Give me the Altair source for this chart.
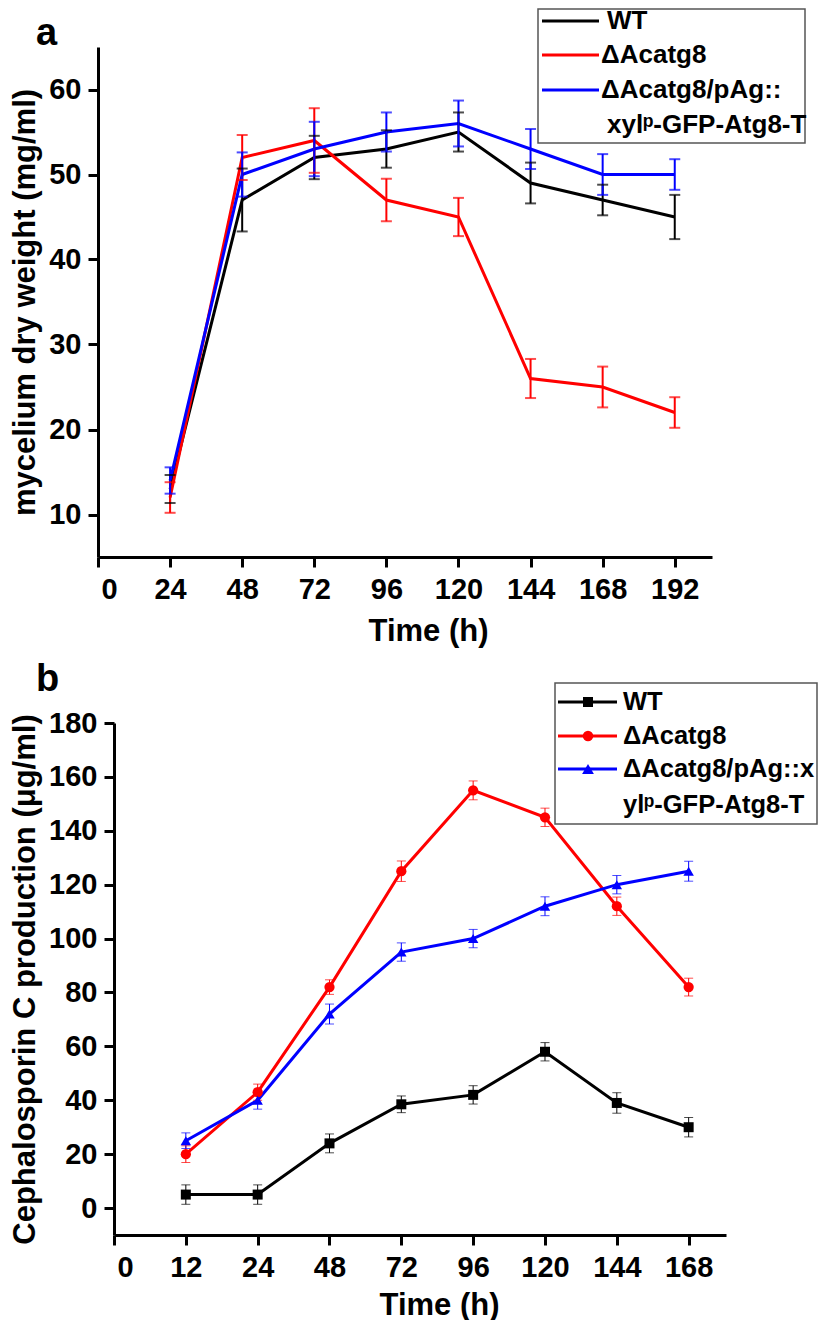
import json
import altair as alt
import pandas as pd

FONT = "Liberation Sans"

# ---------------- panel a : mycelium dry weight ----------------
a_time = [24, 48, 72, 96, 120, 144, 168, 192]
a_wt = [13, 47, 52, 53, 55, 49, 47, 45]
a_wt_err = [1.65, 3.7, 2.55, 2.2, 2.3, 2.4, 1.8, 2.6]
a_mut = [12, 52, 54, 47, 45, 26, 25, 22]
a_mut_err = [1.8, 2.65, 3.8, 2.5, 2.25, 2.3, 2.4, 1.8]
a_comp = [14, 50, 53, 55, 56, 53, 50, 50]
a_comp_err = [1.55, 2.6, 3.2, 2.3, 2.7, 2.35, 2.4, 1.8]
a_xticks = [0, 24, 48, 72, 96, 120, 144, 168, 192]
a_yticks = [10, 20, 30, 40, 50, 60]

# ---------------- panel b : cephalosporin C production ----------------
b_time_labels = ["0", "12", "24", "48", "72", "96", "120", "144", "168"]
b_time = ["12", "24", "48", "72", "96", "120", "144", "168"]
b_wt = [5, 5, 24, 38.5, 42, 58, 39, 30]
b_wt_err = [3.6, 3.6, 3.5, 3.1, 3.4, 3.4, 3.8, 3.6]
b_mut = [20, 43, 82, 125, 155, 145, 112, 82]
b_mut_err = [3.1, 3.0, 2.7, 3.8, 3.5, 3.4, 3.4, 3.3]
b_comp = [25, 40, 72, 95, 100, 112, 120, 125]
b_comp_err = [2.9, 3.3, 3.7, 3.4, 3.4, 3.5, 3.4, 3.7]
b_yticks = [0, 20, 40, 60, 80, 100, 120, 140, 160, 180]

series = ["WT", "ΔAcatg8", "ΔAcatg8/pAg::xylp-GFP-Atg8-T"]
colors = ["#000000", "#ff0000", "#0000ff"]
shapes = ["square", "circle", "triangle-up"]

legend_a_labels = ["WT", "ΔAcatg8", "ΔAcatg8/pAg::", "xylᵖ-GFP-Atg8-T"]
legend_b_labels = ["WT", "ΔAcatg8", "ΔAcatg8/pAg::x", "ylᵖ-GFP-Atg8-T"]


def to_long(times, groups):
    rows = []
    for name, vals, errs in groups:
        for t, v, e in zip(times, vals, errs):
            rows.append({"t": t, "series": name, "v": v, "lo": v - e, "hi": v + e})
    return pd.DataFrame(rows)


df_a = to_long(a_time, [(series[0], a_wt, a_wt_err), (series[1], a_mut, a_mut_err),
                        (series[2], a_comp, a_comp_err)])
b_pos = [b_time_labels.index(t) for t in b_time]
df_b = to_long(b_pos, [(series[0], b_wt, b_wt_err), (series[1], b_mut, b_mut_err),
                       (series[2], b_comp, b_comp_err)])

color = alt.Color("series:N", scale=alt.Scale(domain=series, range=colors), legend=None)
zero_off = {"condition": {"test": "datum.value === 0", "value": 11}, "value": 0}


def one():
    return alt.Chart(pd.DataFrame({"k": [0]}))


def legend_layers(box, line_x, ys, text_x, labels, marker_x=None, line_w=3, fs=26):
    layers = [one().mark_rect(fill="white", stroke="#555555", strokeWidth=1.5).encode(
        x=alt.value(box[0]), x2=alt.value(box[1]), y=alt.value(box[2]), y2=alt.value(box[3]))]
    for i in range(3):
        layers.append(one().mark_rule(color=colors[i], strokeWidth=line_w).encode(
            x=alt.value(line_x[0]), x2=alt.value(line_x[1]), y=alt.value(ys[i])))
        if marker_x is not None:
            layers.append(one().mark_point(shape=shapes[i], filled=True, opacity=1,
                                           color=colors[i], size=[100, 110, 140][i]).encode(
                x=alt.value(marker_x), y=alt.value(ys[i])))
    for i, lab in enumerate(labels):
        layers.append(one().mark_text(text=lab, align="left", baseline="middle", font=FONT,
                                      fontSize=fs, fontWeight="bold", color="black").encode(
            x=alt.value(text_x[i]), y=alt.value(ys[i])))
    return layers


# ---------------- chart a ----------------
# panel a's axes sit 16 px left of panel b's: the x range starts at -16 and the y axis is offset
SHIFT_A = 16
xa_scale = alt.Scale(domain=[0, 204.4], nice=False, zero=False, range=[-SHIFT_A, 598])
ya_scale = alt.Scale(domain=[5, 65], nice=False, zero=False)
xa_axis = alt.Axis(values=a_xticks, format="d", title="Time (h)", titleX=330 - SHIFT_A,
                   titlePadding=12, labelOffset=zero_off, labelFlush=False, labelPadding=8)
ya_axis = alt.Axis(values=a_yticks, title="mycelium dry weight (mg/ml)", offset=SHIFT_A,
                   minExtent=47, maxExtent=47, titlePadding=10, labelPadding=7)


def XA(f):
    return alt.X(f, scale=xa_scale, axis=xa_axis)


def YA(f):
    return alt.Y(f, scale=ya_scale, axis=ya_axis)


base_a = alt.Chart(df_a)
line_a = base_a.mark_line(strokeWidth=3).encode(x=XA("t:Q"), y=YA("v:Q"), color=color)
err_a = base_a.mark_rule(strokeWidth=2).encode(x=XA("t:Q"), y=YA("lo:Q"), y2="hi:Q", color=color)
cap_lo_a = base_a.mark_tick(orient="horizontal", size=11, thickness=2).encode(
    x=XA("t:Q"), y=YA("lo:Q"), color=color)
cap_hi_a = base_a.mark_tick(orient="horizontal", size=11, thickness=2).encode(
    x=XA("t:Q"), y=YA("hi:Q"), color=color)
letter_a = one().mark_text(text="a", align="left", baseline="alphabetic", font=FONT, fontSize=38,
                           fontWeight="bold", color="black").encode(
    x=alt.value(-62 - SHIFT_A), y=alt.value(-2))

leg_a = legend_layers(box=[440 - SHIFT_A, 707 - SHIFT_A, -38, 96],
                      line_x=[444 - SHIFT_A, 501 - SHIFT_A], ys=[-26, 8, 43, 78],
                      text_x=[509 - SHIFT_A, 503 - SHIFT_A, 503 - SHIFT_A, 509 - SHIFT_A],
                      labels=legend_a_labels)

panel_a = alt.layer(line_a, err_a, cap_lo_a, cap_hi_a, letter_a, *leg_a).properties(
    width=598, height=510)

# ---------------- chart b ----------------
xb_scale = alt.Scale(domain=[0, 8.52], nice=False, zero=False)
yb_scale = alt.Scale(domain=[-10, 180], nice=False, zero=False)
xb_axis = alt.Axis(values=list(range(len(b_time_labels))),
                   labelExpr=json.dumps(b_time_labels) + "[datum.value]",
                   title="Time (h)", titleX=325, titlePadding=8, labelOffset=zero_off,
                   labelFlush=False, labelPadding=8)
yb_axis = alt.Axis(values=b_yticks, title="Cephalosporin C production (μg/ml)", minExtent=63,
                   maxExtent=63, titlePadding=10, labelPadding=7)


def XB(f):
    return alt.X(f, scale=xb_scale, axis=xb_axis)


def YB(f):
    return alt.Y(f, scale=yb_scale, axis=yb_axis)


base_b = alt.Chart(df_b)
line_b = base_b.mark_line(strokeWidth=3).encode(x=XB("t:Q"), y=YB("v:Q"), color=color)
err_b = base_b.mark_rule(strokeWidth=1).encode(x=XB("t:Q"), y=YB("lo:Q"), y2="hi:Q", color=color)
cap_lo_b = base_b.mark_tick(orient="horizontal", size=9, thickness=1).encode(
    x=XB("t:Q"), y=YB("lo:Q"), color=color)
cap_hi_b = base_b.mark_tick(orient="horizontal", size=9, thickness=1).encode(
    x=XB("t:Q"), y=YB("hi:Q"), color=color)
pts_b = base_b.mark_point(filled=True, opacity=1).encode(
    x=XB("t:Q"), y=YB("v:Q"), color=color,
    shape=alt.Shape("series:N", scale=alt.Scale(domain=series, range=shapes), legend=None),
    size=alt.Size("series:N", scale=alt.Scale(domain=series, range=[100, 110, 140]), legend=None))
letter_b = one().mark_text(text="b", align="left", baseline="alphabetic", font=FONT, fontSize=38,
                           fontWeight="bold", color="black").encode(x=alt.value(-78), y=alt.value(-32))

leg_b = legend_layers(box=[441, 703, -40, 101], line_x=[444, 503], ys=[-21, 13, 46, 82],
                      text_x=[509, 509, 509, 509], labels=legend_b_labels, marker_x=474, fs=25.5)

panel_b = alt.layer(line_b, err_b, cap_lo_b, cap_hi_b, pts_b, letter_b, *leg_b).properties(
    width=612, height=512)

chart = alt.vconcat(panel_a, panel_b, spacing=15).properties(
    padding={"left": 0, "top": 0, "right": 0, "bottom": 0}
).configure(font=FONT).configure_view(stroke=None).configure_axis(
    domainWidth=3, tickWidth=3, tickSize=10, domainColor="black", tickColor="black",
    labelColor="black", titleColor="black", labelFont=FONT, titleFont=FONT,
    labelFontSize=29, titleFontSize=31, labelFontWeight="bold", titleFontWeight="bold",
    grid=False
)

chart.save("out.html", embed_options={"renderer": "svg", "actions": False})
